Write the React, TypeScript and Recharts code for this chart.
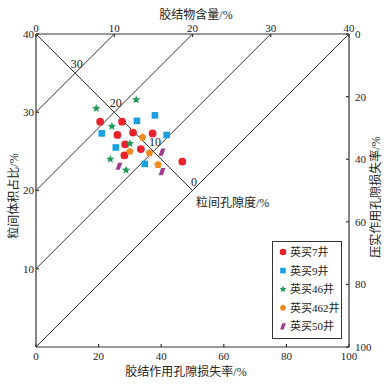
import React from "react";
import { ScatterChart, Scatter, XAxis, YAxis, ReferenceLine, Legend } from "recharts";

const FONT = "'Liberation Serif', 'Times New Roman', 'Noto Sans CJK SC', serif";
const INK = "#333";
const TEXT = "#222";

// 胶结物含量/% (上轴) 与 粒间体积占比/% (左轴)
const yingmai7Cement = [8.2, 11.0, 10.4, 12.4, 14.9, 11.4, 13.4, 11.3, 18.7];
const yingmai7Igv = [28.8, 28.8, 27.1, 27.4, 27.3, 25.9, 25.3, 24.5, 23.7];
const yingmai9Cement = [12.9, 15.2, 8.4, 16.7, 10.2, 13.9];
const yingmai9Igv = [28.9, 29.6, 27.3, 27.1, 25.5, 23.4];
const yingmai46Cement = [7.7, 12.8, 9.7, 12.0, 9.5, 11.5];
const yingmai46Igv = [30.5, 31.6, 28.2, 26.0, 24.0, 22.6];
const yingmai462Cement = [13.6, 12.0, 14.5, 15.6];
const yingmai462Igv = [26.8, 25.0, 24.8, 23.3];
const yingmai50Cement = [16.1, 10.6, 16.1];
const yingmai50Igv = [24.9, 23.1, 22.4];

const cementTicks = [0, 10, 20, 30, 40];
const igvTicks = [10, 20, 30, 40];
const lossTicks = [0, 20, 40, 60, 80, 100];
// 粒间孔隙度等值线
const porosityValues = [30, 20, 10, 0];

type Mark = "circle" | "square" | "star" | "pentagon" | "rhomb";

const wells: { name: string; cement: number[]; igv: number[]; color: string; mark: Mark }[] = [
  { name: "英买7井", cement: yingmai7Cement, igv: yingmai7Igv, color: "#e8212a", mark: "circle" },
  { name: "英买9井", cement: yingmai9Cement, igv: yingmai9Igv, color: "#19a0e0", mark: "square" },
  { name: "英买46井", cement: yingmai46Cement, igv: yingmai46Igv, color: "#1e9a55", mark: "star" },
  { name: "英买462井", cement: yingmai462Cement, igv: yingmai462Igv, color: "#f28a22", mark: "pentagon" },
  { name: "英买50井", cement: yingmai50Cement, igv: yingmai50Igv, color: "#a23a8e", mark: "rhomb" },
];

function polygon(cx: number, cy: number, n: number, rOut: number, rIn?: number) {
  const pts: string[] = [];
  const steps = rIn ? n * 2 : n;
  for (let i = 0; i < steps; i++) {
    const r = rIn && i % 2 === 1 ? rIn : rOut;
    const a = -Math.PI / 2 + (i * 2 * Math.PI) / steps;
    pts.push(`${cx + r * Math.cos(a)},${cy + r * Math.sin(a)}`);
  }
  return pts.join(" ");
}

function Marker({ kind, cx, cy, fill, k = 1 }: { kind: Mark; cx: number; cy: number; fill: string; k?: number }) {
  if (kind === "circle") return <circle cx={cx} cy={cy} r={3.9 * k} fill={fill} />;
  if (kind === "square") {
    const s = 6.6 * k;
    return <rect x={cx - s / 2} y={cy - s / 2} width={s} height={s} fill={fill} />;
  }
  if (kind === "star") return <polygon points={polygon(cx, cy, 5, 4.4 * k, 1.9 * k)} fill={fill} />;
  if (kind === "pentagon") return <polygon points={polygon(cx, cy, 5, 4 * k)} fill={fill} />;
  const h = 3.6 * k;
  return (
    <polygon
      points={`${cx - 3.4 * k},${cy + h} ${cx - 0.8 * k},${cy - h} ${cx + 3.4 * k},${cy - h} ${cx + 0.8 * k},${cy + h}`}
      fill={fill}
    />
  );
}

function AxisTitle(props: any) {
  const { viewBox, caption, ox, oy, rot } = props;
  const x = viewBox.x + ox;
  const y = viewBox.y + oy;
  return (
    <text
      x={x}
      y={y}
      textAnchor="middle"
      dominantBaseline="central"
      transform={rot ? `rotate(${rot} ${x} ${y})` : undefined}
      fontSize={12}
      fill={TEXT}
      fontFamily={FONT}
    >
      {caption}
    </text>
  );
}

function LegendBox() {
  return (
    <svg width={68} height={96}>
      {wells.map((w, i) => {
        const y = 10 + i * 18.6;
        return (
          <g key={w.name}>
            <Marker kind={w.mark} cx={10} cy={y} fill={w.color} k={0.85} />
            <text x={17} y={y} dominantBaseline="central" fontSize={11} fill={TEXT} fontFamily={FONT}>
              {w.name}
            </text>
          </g>
        );
      })}
    </svg>
  );
}

const porosityMarks = porosityValues.map((p) => ({ cement: (40 - p) / 2, igv: (40 + p) / 2, p }));
const porosityTitle = [{ cement: 20, igv: 20 }];
// 仅用于给下轴/右轴提供数据范围，不绘制
const lossRange = lossTicks.map((v) => ({ loss: v }));

const axisLine = { stroke: INK, strokeWidth: 1.2 };
const tickStyle = { fontSize: 11, fill: TEXT, fontFamily: FONT };

export default function App() {
  return (
    <div style={{ position: "absolute", left: 0, top: 0, width: 391, height: 385, background: "#fff" }}>
      <ScatterChart width={391} height={385} margin={{ top: 0, right: 0, bottom: 0, left: 0 }}>
        <XAxis
          xAxisId="top"
          orientation="top"
          type="number"
          dataKey="cement"
          domain={[0, 40]}
          ticks={cementTicks}
          interval={0}
          height={34}
          tickSize={-3}
          tickMargin={5}
          axisLine={axisLine}
          tickLine={axisLine}
          tick={tickStyle}
          label={<AxisTitle caption="胶结物含量/%" ox={160} oy={15} />}
        />
        <XAxis
          xAxisId="bottom"
          orientation="bottom"
          type="number"
          dataKey="loss"
          domain={[0, 100]}
          ticks={lossTicks}
          interval={0}
          height={38}
          tickSize={-3}
          tickMargin={8}
          axisLine={axisLine}
          tickLine={axisLine}
          tick={tickStyle}
          label={<AxisTitle caption="胶结作用孔隙损失率/%" ox={150} oy={25} />}
        />
        <YAxis
          yAxisId="left"
          orientation="left"
          type="number"
          dataKey="igv"
          domain={[0, 40]}
          ticks={igvTicks}
          interval={0}
          width={36}
          tickSize={-3}
          tickMargin={5}
          axisLine={axisLine}
          tickLine={axisLine}
          tick={tickStyle}
          label={<AxisTitle caption="粒间体积占比/%" ox={14} oy={162} rot={-90} />}
        />
        <YAxis
          yAxisId="right"
          orientation="right"
          type="number"
          dataKey="loss"
          domain={[0, 100]}
          reversed
          ticks={lossTicks}
          interval={0}
          width={42}
          tickSize={-3}
          tickMargin={9}
          axisLine={axisLine}
          tickLine={axisLine}
          tick={tickStyle}
          label={<AxisTitle caption="压实作用孔隙损失率/%" ox={27} oy={163} rot={-90} />}
        />

        <Scatter
          xAxisId="bottom"
          yAxisId="right"
          data={lossRange}
          legendType="none"
          isAnimationActive={false}
          shape={() => <g />}
        />

        {porosityValues.map((p) => (
          <ReferenceLine
            key={`iso-${p}`}
            xAxisId="top"
            yAxisId="left"
            segment={[
              { x: 0, y: p },
              { x: 40 - p, y: 40 },
            ]}
            stroke={INK}
            strokeWidth={1}
            ifOverflow="visible"
          />
        ))}
        <ReferenceLine
          xAxisId="top"
          yAxisId="left"
          segment={[
            { x: 0, y: 40 },
            { x: 20, y: 20 },
          ]}
          stroke={INK}
          strokeWidth={1}
          ifOverflow="visible"
        />

        <Scatter
          xAxisId="top"
          yAxisId="left"
          data={porosityMarks}
          legendType="none"
          isAnimationActive={false}
          shape={(props: any) => (
            <text
              x={props.cx + 1.5}
              y={props.cy - 9}
              textAnchor="middle"
              dominantBaseline="central"
              fontSize={12}
              fill={TEXT}
              fontFamily={FONT}
            >
              {props.payload.p}
            </text>
          )}
        />
        <Scatter
          xAxisId="top"
          yAxisId="left"
          data={porosityTitle}
          legendType="none"
          isAnimationActive={false}
          shape={(props: any) => (
            <text
              x={props.cx + 3.5}
              y={props.cy + 12}
              dominantBaseline="central"
              fontSize={12}
              fill={TEXT}
              fontFamily={FONT}
            >
              粒间孔隙度/%
            </text>
          )}
        />

        {wells.map((w) => (
          <Scatter
            key={w.name}
            name={w.name}
            xAxisId="top"
            yAxisId="left"
            data={w.cement.map((c, i) => ({ cement: c, igv: w.igv[i] }))}
            fill={w.color}
            isAnimationActive={false}
            shape={(props: any) => <Marker kind={w.mark} cx={props.cx} cy={props.cy} fill={w.color} />}
          />
        ))}

        <Legend
          layout="vertical"
          align="center"
          verticalAlign="middle"
          content={() => <LegendBox />}
          wrapperStyle={{
            left: 272,
            top: 241,
            width: 70,
            height: 98,
            border: `1px solid ${INK}`,
            background: "#fff",
            boxSizing: "border-box",
            lineHeight: 0,
          }}
        />
      </ScatterChart>
    </div>
  );
}
